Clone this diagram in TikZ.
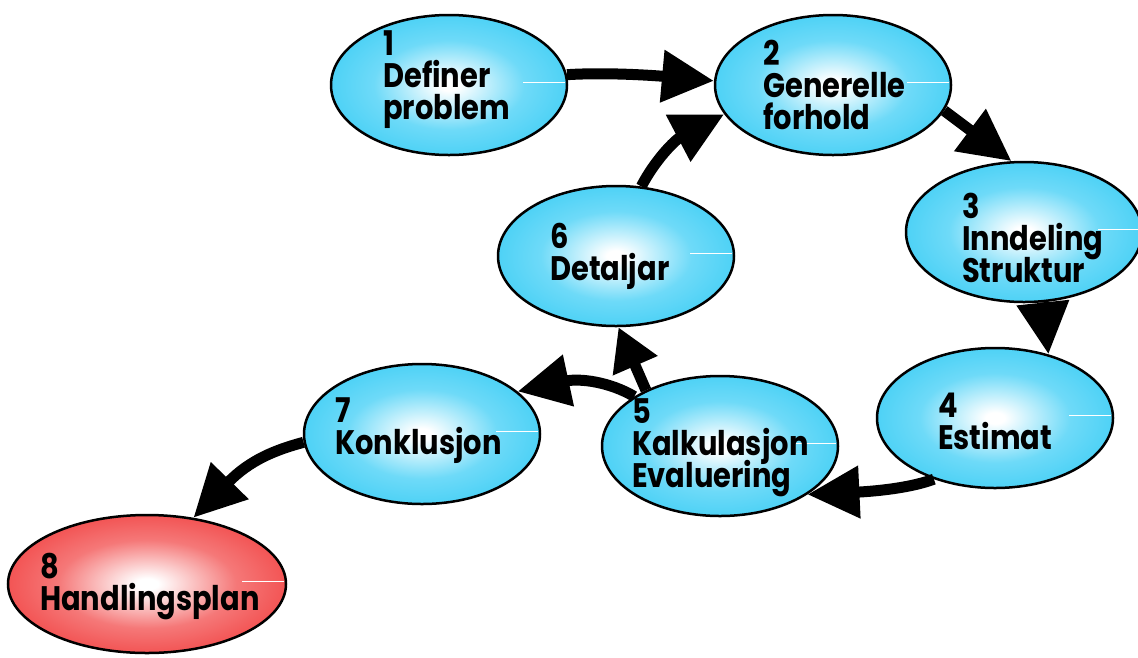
\documentclass[tikz,border=0pt]{standalone}
\usepackage{fontspec}
\setmainfont{Poppins}[FakeStretch=0.85]
\usetikzlibrary{arrows.meta,shapes.geometric}

\definecolor{eggcyan}{RGB}{25,196,242}
\definecolor{eggcyanmid}{RGB}{110,218,248}
\definecolor{eggred}{RGB}{238,25,25}
\definecolor{eggredmid}{RGB}{245,120,120}
% radial fills: white core fading to the rim colour at the ellipse edge
\pgfdeclareradialshading{cyanegg}{\pgfpoint{0bp}{0bp}}{color(0bp)=(white); color(2bp)=(white); color(16bp)=(eggcyanmid); color(40bp)=(eggcyan); color(75bp)=(eggcyan)}
\pgfdeclareradialshading{redegg}{\pgfpoint{0bp}{0bp}}{color(0bp)=(white); color(2bp)=(white); color(16bp)=(eggredmid); color(40bp)=(eggred); color(75bp)=(eggred)}

% fixed line distance regardless of glyph heights
\newcommand\steplabelfont{\fontsize{34}{32}\selectfont\bfseries\lineskiplimit=-100pt\relax}

\begin{document}
\begin{tikzpicture}[x=1pt,y=-1pt,
  egg/.style={ellipse,draw=black,line width=2.5pt,shade,shading=cyanegg,
    minimum width=236pt,minimum height=140pt,inner sep=0pt},
  goal/.style={egg,shading=redegg,minimum width=278pt,minimum height=138pt},
  lbl/.style={anchor=north west,inner sep=0pt,align=left,font=\steplabelfont},
  flow/.style={line width=11pt,-{Triangle[length=52pt,width=50pt]}},
  flowsmall/.style={line width=11pt,-{Triangle[length=42pt,width=46pt]}},
  glint/.style={white,line width=0.9pt}]

\useasboundingbox (0,0) rectangle (1138,657);

% steps
\node[egg]  (n1) at (449,85)  {};
\node[egg]  (n2) at (833,85)  {};
\node[egg]  (n3) at (1024,232) {};
\node[egg]  (n4) at (995,418) {};
\node[egg]  (n5) at (720,446) {};
\node[egg]  (n6) at (616,256) {};
\node[egg]  (n7) at (422,434) {};
\node[goal] (n8) at (147,584) {};

% small highlights on the right side of each step
\foreach \n in {n1,n2,n3,n4,n5,n6,n7,n8}
  \draw[glint] ([xshift=-45pt,yshift=3pt]\n.east) -- ([xshift=-3pt,yshift=3pt]\n.east);

% labels
\node[lbl] (t1) at (383,30)  {1\\Definer\\problem};
\node[lbl] (t2) at (763,40)  {2\\Generelle\\forhold};
\node[lbl] (t3) at (962,193) {3\\Inndeling\\Struktur};
\node[lbl] (t4) at (938,393) {4\\Estimat};
\node[lbl] (t5) at (632,398) {5\\Kalkulasjon\\Evaluering};
\node[lbl] (t6) at (550,223) {6\\Detaljar};
\node[lbl] (t7) at (335,398) {7\\Konklusjon};
\node[lbl] (t8) at (40,553)  {8\\Handlingsplan};

% flow between steps
\draw[flow] (n1.5) .. controls (610,72) and (660,76) .. (n2.178);
\draw[flow] (n2.-13) -- (n3.100);
\draw[flow] (n3.-75) -- (n4.50);
\draw[flow] (n4.-135) .. controls (905,490) and (860,492) .. (n5.-29);
\draw[flowsmall] (n5.143) -- (n6.-88);
\draw[flow] (n5.150) .. controls (610,382) and (580,378) .. (n7.24);
\draw[flow] (n6.70) .. controls (655,160) and (675,140) .. (n2.195);
\draw[flow] (n7.184) .. controls (275,450) and (250,460) .. (n8.55);
\end{tikzpicture}
\end{document}
